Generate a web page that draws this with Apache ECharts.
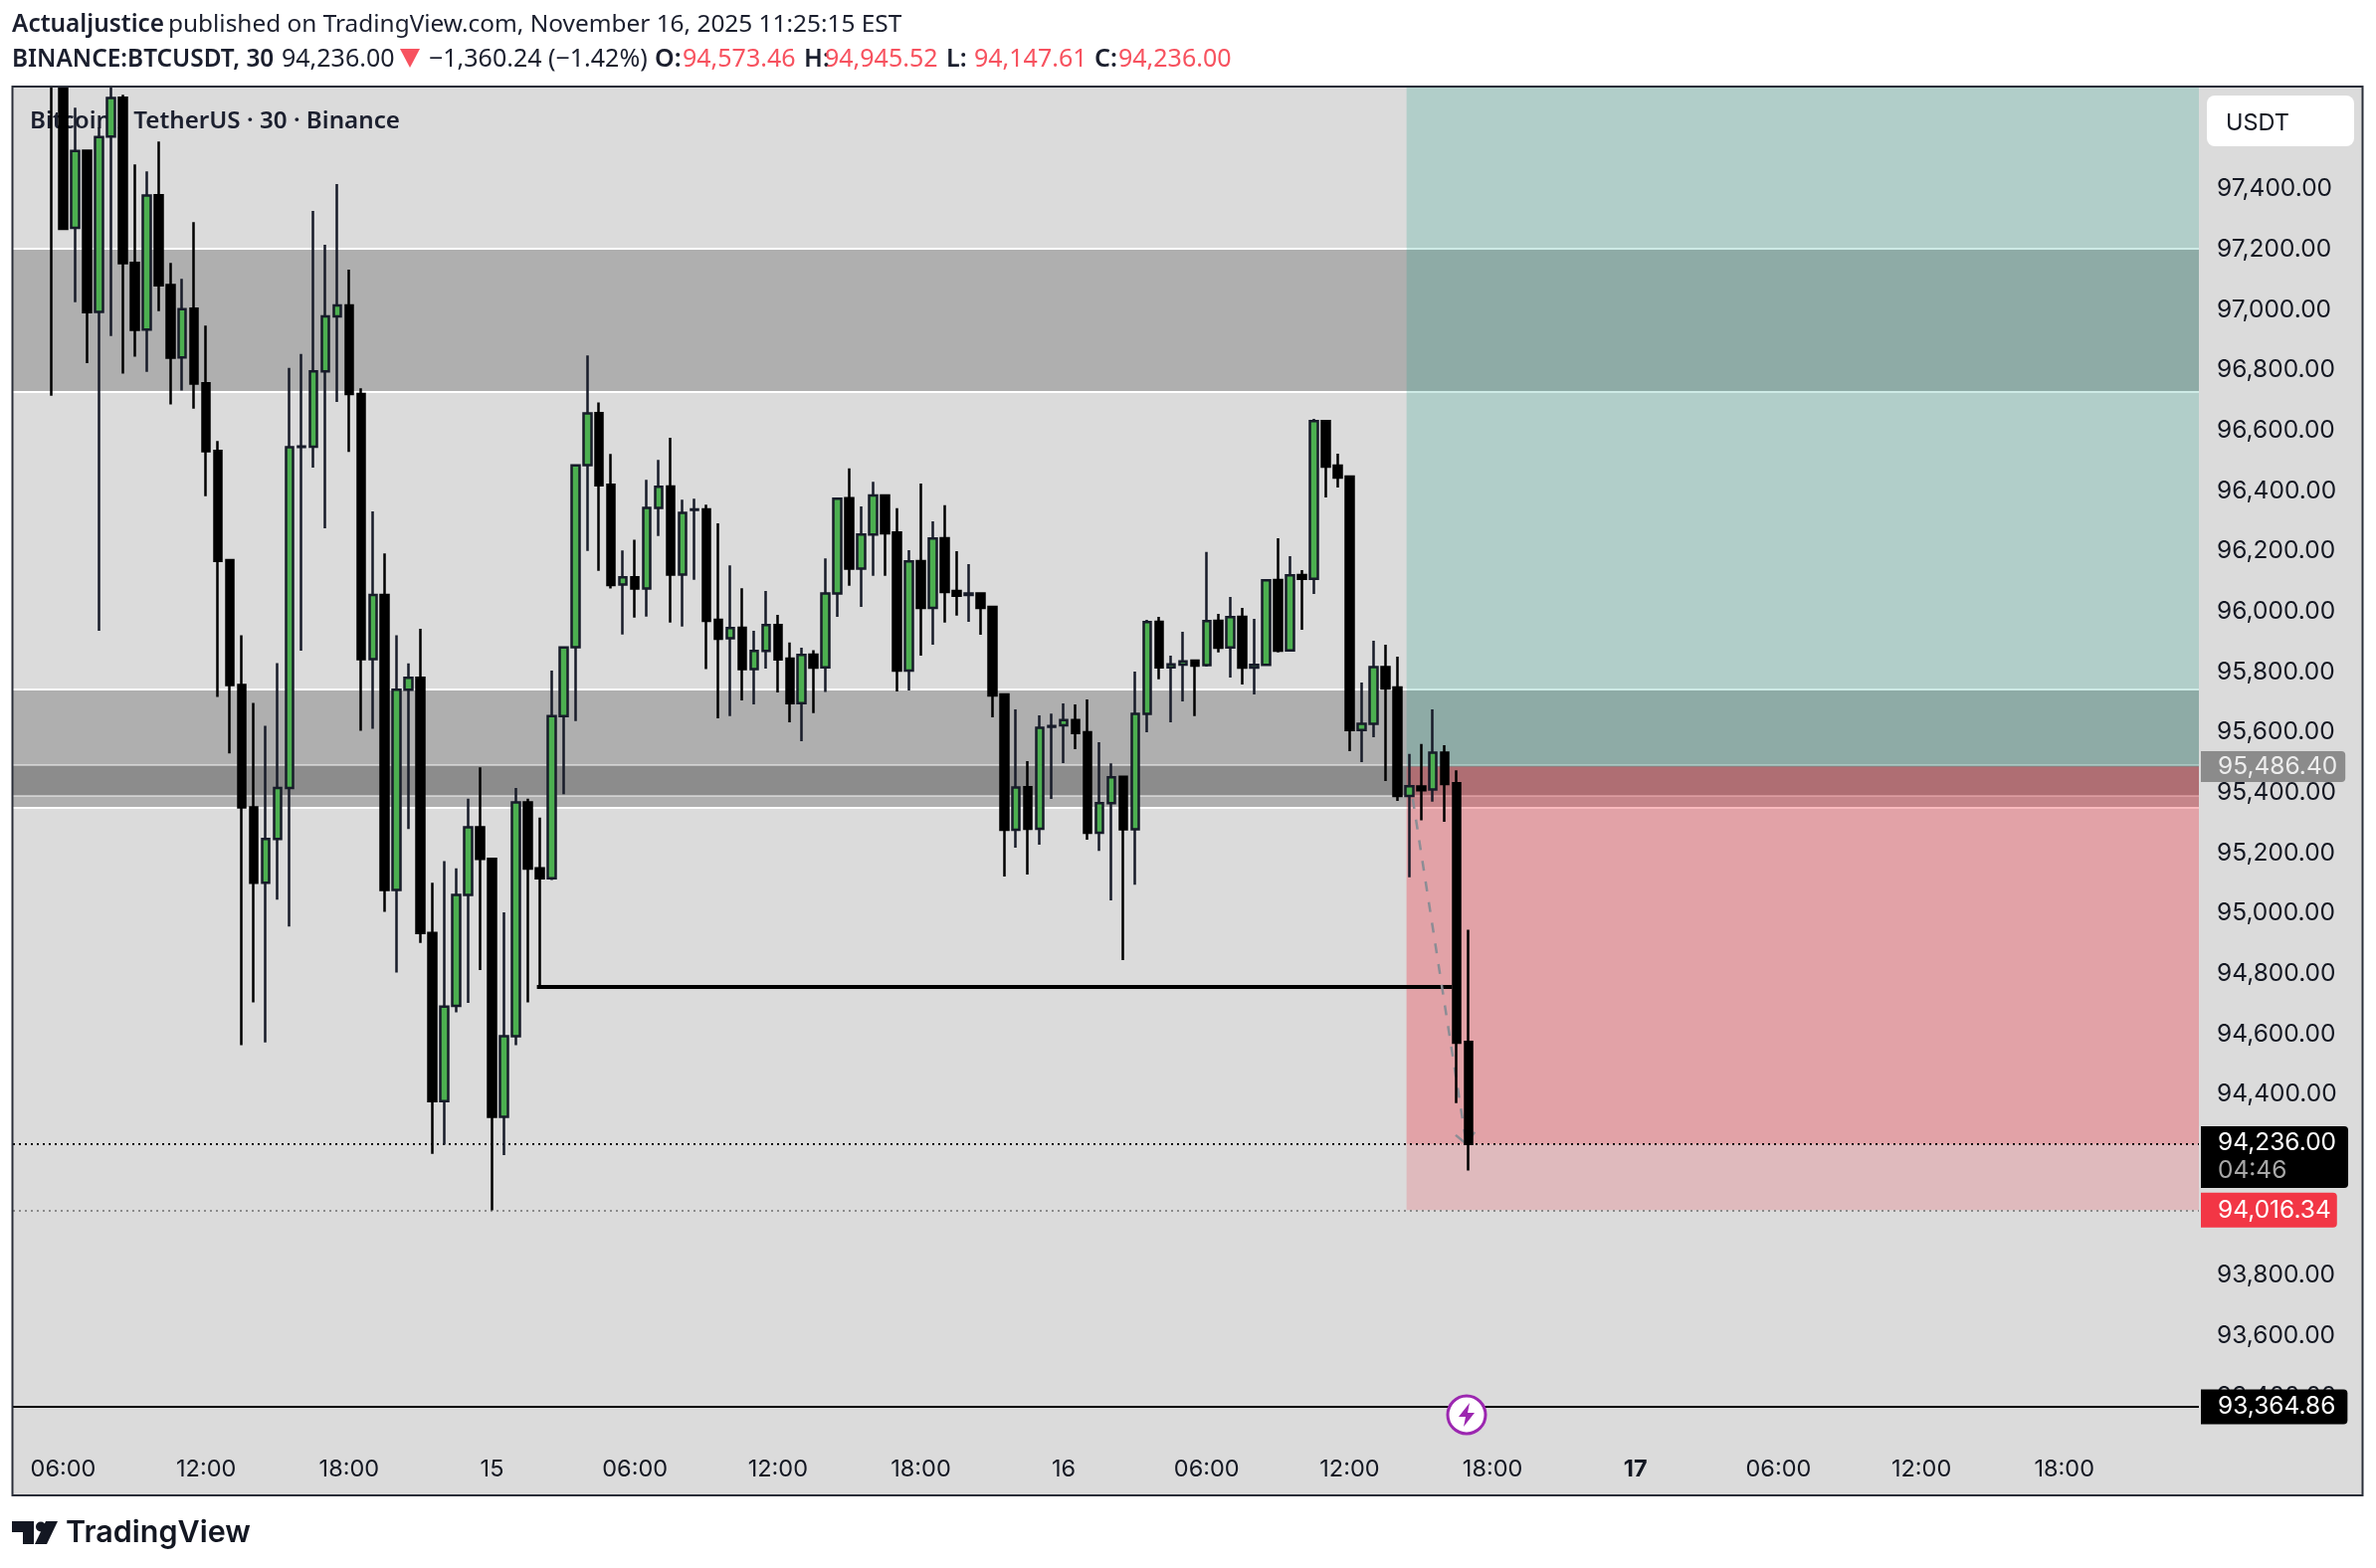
<!DOCTYPE html>
<html>
<head>
<meta charset="utf-8">
<title>BTCUSDT 30</title>
<script src="https://cdn.jsdelivr.net/npm/echarts@6/dist/echarts.min.js"></script>
<style>
    html, body { margin: 0; padding: 0; background: #fff; }
    #chart { width: 2388px; height: 1576px; }
</style>
</head>
<body>
<div id="chart"></div>
<script>
// 30 minute bars
var opens = [97900, 97800, 97271, 97527, 96993, 97574, 97702, 97155, 96934, 97379,
    97082, 96842, 97003, 96756, 96532, 96170, 95756, 95351, 95101, 95246,
    95415, 96545, 96546, 96796, 96978, 97014, 96721, 95842, 96055, 95077,
    95741, 95780, 94935, 94378, 94693, 95061, 95285, 95180, 94326, 94593,
    95367, 95149, 95116, 95653, 95882, 96485, 96657, 96420, 96089, 96113,
    96076, 96343, 96414, 96122, 96337, 96338, 95972, 95911, 95946, 95809,
    95869, 95955, 95844, 95696, 95857, 95815, 96060, 96375, 96142, 96255,
    96384, 96262, 95804, 96167, 96012, 96243, 96068, 96055, 96060, 96015,
    95725, 95277, 95418, 95280, 95618, 95623, 95640, 95600, 95267, 95365,
    95452, 95278, 95661, 95966, 95815, 95824, 95837, 95822, 95969, 95881,
    95982, 95814, 95823, 96104, 95871, 96121, 96108, 96631, 96483, 96447,
    95607, 95628, 95816, 95748, 95389, 95420, 95410, 95532, 95431, 94573.46];
var closes = [97780, 97268, 97526, 96992, 97572, 97701, 97154, 96933, 97378, 97081,
    96841, 97002, 96755, 96531, 96168, 95756, 95351, 95101, 95246, 95415,
    96544, 96547, 96796, 96978, 97014, 96721, 95842, 96055, 95077, 95741,
    95780, 94935, 94378, 94691, 95061, 95285, 95180, 94326, 94593, 95367,
    95148, 95116, 95653, 95881, 96484, 96656, 96418, 96088, 96113, 96076,
    96343, 96413, 96122, 96327, 96338, 95969, 95910, 95945, 95809, 95869,
    95955, 95841, 95696, 95856, 95814, 96060, 96374, 96142, 96255, 96384,
    96259, 95804, 96166, 96012, 96242, 96065, 96052, 96060, 96012, 95722,
    95277, 95417, 95280, 95615, 95620, 95640, 95597, 95267, 95365, 95451,
    95278, 95661, 95965, 95815, 95825, 95835, 95821, 95968, 95880, 95981,
    95814, 95823, 96103, 95870, 96120, 96108, 96631, 96480, 96444, 95607,
    95628, 95816, 95745, 95389, 95421, 95408, 95532, 95428, 94571, 94236];
var lows = [96715, 97268, 97025, 96823, 95936, 96913, 96788, 96844, 96794, 96995,
    96686, 96732, 96672, 96382, 95717, 95530, 94563, 94705, 94572, 95045,
    94956, 95870, 96477, 96276, 96694, 96529, 95605, 95611, 95005, 94804,
    95279, 94902, 94203, 94233, 94672, 94703, 94812, 94016, 94199, 94563,
    94705, 94752, 95110, 95395, 95637, 96201, 96135, 96076, 95924, 95980,
    95983, 96250, 95963, 95950, 96105, 95809, 95646, 95653, 95705, 95692,
    95811, 95732, 95633, 95570, 95663, 95733, 95982, 96085, 96015, 96118,
    96118, 95735, 95738, 95854, 95890, 95963, 95986, 95966, 95923, 95649,
    95122, 95217, 95128, 95227, 95379, 95498, 95544, 95244, 95207, 95043,
    94845, 95095, 95600, 95775, 95633, 95702, 95653, 95817, 95864, 95781,
    95758, 95725, 95820, 95864, 95870, 95939, 96058, 96378, 96411, 95537,
    95501, 95583, 95438, 95372, 95119, 95308, 95370, 95303, 94371, 94147.61];
var highs = [98000, 97900, 97669, 97527, 97604, 97800, 97712, 97481, 97458, 97557,
    97155, 97102, 97290, 96947, 96565, 96170, 95921, 95697, 95621, 95829,
    96807, 96853, 97327, 97215, 97416, 97133, 96740, 96332, 96192, 95921,
    95828, 95943, 95101, 95173, 95149, 95380, 95484, 95180, 95003, 95415,
    95380, 95317, 95804, 95885, 96486, 96848, 96693, 96522, 96202, 96238,
    96436, 96502, 96576, 96370, 96374, 96354, 96292, 96153, 96077, 95936,
    96068, 95989, 95897, 95880, 95872, 96176, 96378, 96474, 96348, 96430,
    96386, 96342, 96203, 96424, 96299, 96352, 96200, 96157, 96062, 96017,
    95725, 95676, 95504, 95656, 95662, 95695, 95692, 95709, 95567, 95497,
    95455, 95801, 95972, 95982, 95854, 95933, 95840, 96197, 95992, 96048,
    96012, 95976, 96103, 96243, 96183, 96137, 96638, 96631, 96523, 96450,
    95765, 95903, 95890, 95850, 95528, 95561, 95676, 95557, 95474, 94945.52];

var priceTicks = [93400, 93600, 93800, 94400, 94600, 94800, 95000, 95200, 95400,
    95600, 95800, 96000, 96200, 96400, 96600, 96800, 97000, 97200, 97400];
var timeTickBars = [1, 13, 25, 37, 49, 61, 73, 85, 97, 109, 121, 133, 145, 157, 169];
var timeTickLabels = ['06:00', '12:00', '18:00', '15', '06:00', '12:00', '18:00', '16',
    '06:00', '12:00', '18:00', '17', '06:00', '12:00', '18:00'];

// supply / demand bands: [upper, lower]
var bandUpper = [97202, 96727];
var bandMiddle = [95742, 95350];
var bandInner = [95491, 95389];

var entryPrice = 95486.4;
var lastPrice = 94236;
var stopPrice = 94016.34;
var lowerLinePrice = 93364.86;
var countdownAnchor = 94192;

var positionStartBar = 113.78;
var levelLine = { fromBar: 40.77, toBar: 117.6, price: 94756 };
var arrowLine = [[114.3, 95379], [118.8, 94236]];
var arrowHeadLeft = [[117.9, 94265], [118.8, 94236]];
var arrowHeadRight = [[119.5, 94275], [118.8, 94236]];

var xMin = -3.22;
var xMax = 180.3;
var yMin = 93279;
var yMax = 97736;

var uiFont = 'Inter';
var headFont = '"Noto Sans"';
var inkColor = '#131722';
var headInk = '#1b1f2e';
var redInk = '#f7525f';
var arrowColor = '#8c8d95';
var clearLine = { color: 'rgba(0,0,0,0)', width: 1, opacity: 1 };

var ohlc = opens.map(function(o, i) {
    return [i, o, closes[i], lows[i], highs[i]];
});

function fmtPrice(v) {
    return v.toLocaleString('en-US', { minimumFractionDigits: 2, maximumFractionDigits: 2 });
}

function hLine(price, color, width, type) {
    return {
        yAxis: price,
        label: { show: false },
        lineStyle: { color: color, width: width, type: type || 'solid', opacity: 1 }
    };
}

function priceLabel(price, text, bg, fg, padding, lineStyle) {
    return {
        yAxis: price,
        lineStyle: lineStyle || clearLine,
        label: {
            show: true,
            position: 'end',
            distance: 2,
            formatter: text,
            color: fg,
            backgroundColor: bg,
            padding: padding,
            borderRadius: [0, 4, 4, 0],
            fontFamily: uiFont,
            fontSize: 24.5
        }
    };
}

function segment(points, color, width, type) {
    return [
        { coord: points[0], lineStyle: { color: color, width: width, type: type }, label: { show: false } },
        { coord: points[1] }
    ];
}

function headText(x, y, text, font, fill) {
    return { type: 'text', z: 10, silent: true, style: { x: x, y: y, verticalAlign: 'middle', text: text, font: font, fill: fill } };
}

var chart = echarts.init(document.getElementById('chart'));

var option = {
    animation: false,
    backgroundColor: '#ffffff',
    grid: { left: 13, width: 2197, top: 88, height: 1352, containLabel: false },
    xAxis: {
        type: 'value',
        min: xMin,
        max: xMax,
        axisLine: { show: false },
        axisTick: { show: false },
        splitLine: { show: false },
        axisLabel: {
            customValues: timeTickBars,
            margin: 25,
            color: inkColor,
            fontFamily: uiFont,
            fontSize: 23.5,
            formatter: function(v) {
                var label = timeTickLabels[timeTickBars.indexOf(v)];
                return label === '17' ? '{day|17}' : label;
            },
            rich: {
                day: { fontFamily: uiFont, fontSize: 23.5, fontWeight: 'bold', color: inkColor }
            }
        }
    },
    yAxis: {
        type: 'value',
        position: 'right',
        min: yMin,
        max: yMax,
        scale: true,
        axisLine: { show: false },
        axisTick: { show: false },
        splitLine: { show: false },
        axisLabel: {
            customValues: priceTicks,
            margin: 18,
            padding: [0, 0, 3, 0],
            color: inkColor,
            fontFamily: uiFont,
            fontSize: 24.5,
            formatter: function(v) { return fmtPrice(v); }
        }
    },
    series: [
        {
            // grey zones and their edges, under everything else
            name: 'bands',
            type: 'line',
            data: [],
            silent: true,
            markArea: {
                silent: true,
                z: 1,
                data: [
                    [{ yAxis: bandUpper[0], itemStyle: { color: 'rgba(0,0,0,0.2)' } }, { yAxis: bandUpper[1] }],
                    [{ yAxis: bandMiddle[0], itemStyle: { color: 'rgba(0,0,0,0.2)' } }, { yAxis: bandMiddle[1] }],
                    [{ yAxis: bandInner[0], itemStyle: { color: 'rgba(0,0,0,0.2)' } }, { yAxis: bandInner[1] }]
                ]
            },
            markLine: {
                silent: true,
                z: 1,
                symbol: 'none',
                animation: false,
                data: [
                    hLine(bandUpper[0], '#ffffff', 2),
                    hLine(bandUpper[1], '#ffffff', 2),
                    hLine(bandMiddle[0], '#ffffff', 2),
                    hLine(bandMiddle[1], '#ffffff', 2),
                    hLine(bandInner[0], 'rgba(255,255,255,0.45)', 2),
                    hLine(bandInner[1], 'rgba(255,255,255,0.45)', 2)
                ]
            }
        },
        {
            // short position tool
            name: 'position',
            type: 'line',
            data: [],
            silent: true,
            markArea: {
                silent: true,
                z: 2,
                data: [
                    [{ xAxis: positionStartBar, yAxis: yMax, itemStyle: { color: 'rgba(8,153,129,0.2)' } },
                        { xAxis: xMax, yAxis: entryPrice }],
                    [{ xAxis: positionStartBar, yAxis: entryPrice, itemStyle: { color: 'rgba(242,54,69,0.2)' } },
                        { xAxis: xMax, yAxis: stopPrice }],
                    [{ xAxis: positionStartBar, yAxis: entryPrice, itemStyle: { color: 'rgba(242,54,69,0.18)' } },
                        { xAxis: xMax, yAxis: lastPrice }]
                ]
            },
            markLine: {
                silent: true,
                z: 3,
                symbol: 'none',
                animation: false,
                data: [
                    hLine(lastPrice, '#000000', 2, [2, 4]),
                    hLine(stopPrice, '#8a8a8a', 2, [2, 4]),
                    priceLabel(lowerLinePrice, fmtPrice(lowerLinePrice), '#000000', '#ffffff', [5, 12, 5, 17],
                        { color: '#000000', width: 2, type: 'solid', opacity: 1 }),
                    priceLabel(stopPrice, fmtPrice(stopPrice), '#f23645', '#ffffff', [5, 6, 5, 17]),
                    priceLabel(entryPrice, fmtPrice(entryPrice), '#8b8b8b', '#ededed', [3, 8, 3, 17]),
                    {
                        yAxis: countdownAnchor,
                        lineStyle: clearLine,
                        label: {
                            show: true,
                            position: 'end',
                            distance: 2,
                            formatter: '{p|' + fmtPrice(lastPrice) + '}\n{t|04:46}',
                            backgroundColor: '#000000',
                            padding: [3, 12, 3, 17],
                            borderRadius: [0, 4, 4, 0],
                            rich: {
                                p: { color: '#ffffff', fontFamily: uiFont, fontSize: 24.5, lineHeight: 28 },
                                t: { color: '#a8a8a8', fontFamily: uiFont, fontSize: 24.5, lineHeight: 28 }
                            }
                        }
                    },
                    segment([[levelLine.fromBar, levelLine.price], [levelLine.toBar, levelLine.price]], '#000000', 4, 'solid'),
                    segment(arrowLine, arrowColor, 2.5, [10, 11]),
                    segment(arrowHeadLeft, arrowColor, 2.5, 'solid'),
                    segment(arrowHeadRight, arrowColor, 2.5, 'solid')
                ]
            }
        },
        {
            name: 'BTCUSDT',
            type: 'candlestick',
            z: 4,
            barWidth: 8,
            encode: { x: 0, y: [1, 2, 3, 4] },
            itemStyle: {
                color: '#4caf50',
                color0: '#000000',
                borderColor: '#171b29',
                borderColor0: '#000000',
                borderWidth: 2.5
            },
            data: ohlc
        }
    ],
    graphic: {
        elements: [
            { type: 'rect', z: -5, silent: true, shape: { x: 13, y: 88, width: 2361, height: 1414 }, style: { fill: '#dbdbdb' } },
            { type: 'text', z: 0, silent: true, style: { x: 30, y: 122, verticalAlign: 'middle', text: 'Bitcoin / TetherUS · 30 · Binance', fill: headInk, font: '600 24.2px ' + headFont } },
            // bars that run off the top of the pane stop at the frame
            { type: 'rect', z: 9, silent: true, shape: { x: 0, y: 0, width: 2388, height: 87 }, style: { fill: '#ffffff' } },
            headText(12, 25.5, 'Actualjustice', '600 24.4px ' + headFont, headInk),
            headText(169, 25.5, 'published on TradingView.com, November 16, 2025 11:25:15 EST', '24.4px ' + headFont, headInk),
            headText(12, 60, 'BINANCE:BTCUSDT, 30', '600 24.4px ' + headFont, headInk),
            headText(283, 60, '94,236.00', '25px ' + headFont, headInk),
            { type: 'polygon', z: 10, silent: true, shape: { points: [[402, 49], [422, 49], [412, 68]] }, style: { fill: redInk } },
            headText(431, 60, '−1,360.24 (−1.42%)', '25px ' + headFont, headInk),
            headText(658, 60, 'O:', '600 25px ' + headFont, headInk),
            headText(686, 60, '94,573.46', '25px ' + headFont, redInk),
            headText(808, 60, 'H:', '600 25px ' + headFont, headInk),
            headText(829, 60, '94,945.52', '25px ' + headFont, redInk),
            headText(951, 60, 'L:', '600 25px ' + headFont, headInk),
            headText(979, 60, '94,147.61', '25px ' + headFont, redInk),
            headText(1100, 60, 'C:', '600 25px ' + headFont, headInk),
            headText(1124, 60, '94,236.00', '25px ' + headFont, redInk),
            // chart frame
            { type: 'rect', z: 20, silent: true, shape: { x: 12.5, y: 87, width: 2362, height: 1416 }, style: { fill: null, stroke: '#2a2e39', lineWidth: 2 } },
            // currency button
            { type: 'rect', z: 10, silent: true, shape: { x: 2218, y: 96, width: 148, height: 51, r: 8 }, style: { fill: '#ffffff' } },
            { type: 'text', z: 11, silent: true, style: { x: 2237, y: 124, verticalAlign: 'middle', text: 'USDT', fill: '#131722', font: '23.5px ' + uiFont } },
            // lightning badge on the time axis
            { type: 'circle', z: 12, silent: true, shape: { cx: 1474, cy: 1422, r: 19 }, style: { fill: '#ffffff', stroke: '#9c27b0', lineWidth: 3 } },
            { type: 'polygon', z: 13, silent: true, shape: { points: [[1477, 1410], [1466, 1424], [1473, 1424], [1471, 1434], [1482, 1420], [1475, 1420]] }, style: { fill: '#9c27b0' } },
            // TradingView logo
            { type: 'polygon', z: 10, silent: true, shape: { points: [[12, 1529], [34, 1529], [34, 1552], [23, 1552], [23, 1540], [12, 1540]] }, style: { fill: '#131722' } },
            { type: 'circle', z: 10, silent: true, shape: { cx: 41, cy: 1534.5, r: 5 }, style: { fill: '#131722' } },
            { type: 'polygon', z: 10, silent: true, shape: { points: [[46, 1529], [58, 1529], [47, 1552], [35, 1552]] }, style: { fill: '#131722' } },
            { type: 'text', z: 10, silent: true, style: { x: 66, y: 1541, verticalAlign: 'middle', text: 'TradingView', fill: '#131722', font: '600 30.5px ' + uiFont } }
        ]
    }
};

chart.setOption(option);
</script>
</body>
</html>
